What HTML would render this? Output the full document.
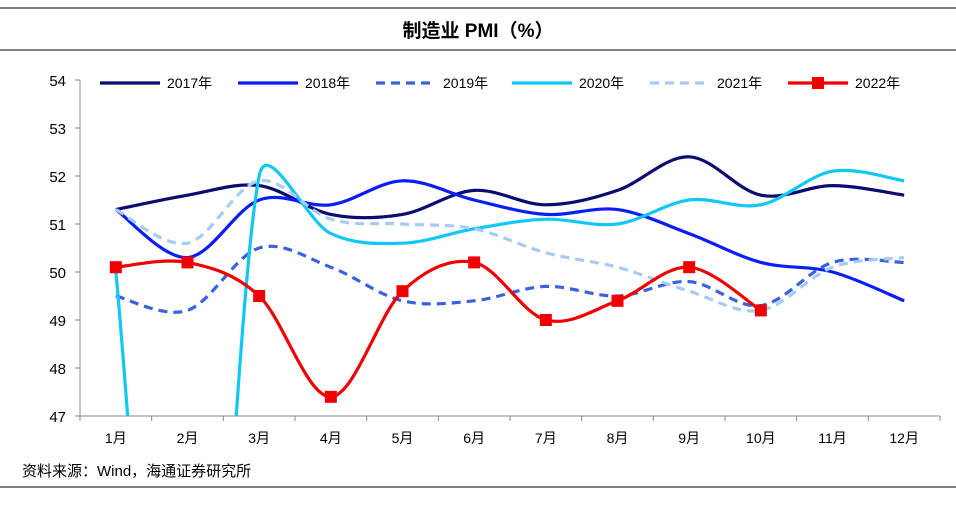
<!DOCTYPE html>
<html><head><meta charset="utf-8"><style>
html,body{margin:0;background:#fff;font-family:"Liberation Sans","Noto Sans CJK SC",sans-serif;overflow:hidden;}
#wrap{position:relative;width:956px;height:509px;overflow:hidden;}
svg{display:block;overflow:hidden;}
</style></head><body>
<div id="wrap">
<svg id="chart" width="956" height="509"></svg>
</div>
<script>
const months=["1月","2月","3月","4月","5月","6月","7月","8月","9月","10月","11月","12月"];
const yTicks=[47,48,49,50,51,52,53,54];
const seriesNames=["2017年","2018年","2019年","2020年","2021年","2022年"];
const s2017=[51.3,51.6,51.8,51.2,51.2,51.7,51.4,51.7,52.4,51.6,51.8,51.6];
const s2018=[51.3,50.3,51.5,51.4,51.9,51.5,51.2,51.3,50.8,50.2,50.0,49.4];
const s2019=[49.5,49.2,50.5,50.1,49.4,49.4,49.7,49.5,49.8,49.3,50.2,50.2];
const s2020=[50.0,35.7,52.0,50.8,50.6,50.9,51.1,51.0,51.5,51.4,52.1,51.9];
const s2021=[51.3,50.6,51.9,51.1,51.0,50.9,50.4,50.1,49.6,49.2,50.1,50.3];
const s2022=[50.1,50.2,49.5,47.4,49.6,50.2,49.0,49.4,50.1,49.2];
const NS="http://www.w3.org/2000/svg";
const svg=document.getElementById('chart');
function el(t,a,p){const e=document.createElementNS(NS,t);for(const k in a)e.setAttribute(k,a[k]);(p||svg).appendChild(e);return e;}
const L=80,R=940,T=80,B=416,yMin=47,yMax=54;
const step=(R-L)/12;
const xS=i=>L+step*(i+0.5);
const yS=v=>B-(v-yMin)/(yMax-yMin)*(B-T);
let e;
e=el('line',{x1:0,y1:8,x2:956,y2:8,stroke:'#000','stroke-width':1});

e=el('line',{x1:0,y1:50,x2:956,y2:50,stroke:'#000','stroke-width':1});

e=el('line',{x1:0,y1:487,x2:956,y2:487,stroke:'#000','stroke-width':1});

e=el('text',{x:478,y:37,'text-anchor':'middle','font-size':19,'font-weight':'bold',fill:'#000'});
e.textContent='制造业 PMI（%）';

e=el('text',{x:22,y:476,'font-size':15,fill:'#000'});
e.textContent='资料来源：Wind，海通证券研究所';

e=el('line',{x1:L,y1:T,x2:L,y2:B,stroke:'#888','stroke-width':1});

e=el('line',{x1:L,y1:B,x2:R,y2:B,stroke:'#888','stroke-width':1});

yTicks.forEach(v=>{
 const t=el('line',{x1:L-5,y1:yS(v),x2:L,y2:yS(v),stroke:'#888'});
 
 const tx=el('text',{x:L-14,y:yS(v)+6,'text-anchor':'end','font-size':15,fill:'#000'});
 tx.textContent=v;
 
});
for(let i=0;i<=12;i++){
 const t=el('line',{x1:L+step*i,y1:B,x2:L+step*i,y2:B+5,stroke:'#888'});
 
}
months.forEach((m,i)=>{
 const tx=el('text',{x:xS(i),y:B+27,'text-anchor':'middle','font-size':14,fill:'#000'});
 tx.textContent=m;
 
});
const cp=el('clipPath',{id:'pc'});
el('rect',{x:L,y:T-10,width:R-L,height:B-T+10},cp);
function clampVec(dx,dy,max){const l=Math.hypot(dx,dy);if(l>max&&l>0){return [dx*max/l,dy*max/l];}return [dx,dy];}
function smooth(vals){
 const p=vals.map((v,i)=>[xS(i),yS(v)]);
 let d='M'+p[0][0]+','+p[0][1];
 for(let i=0;i<p.length-1;i++){
  const p0=p[i-1]||p[i],p1=p[i],p2=p[i+1],p3=p[i+2]||p2;
  const chord=Math.hypot(p2[0]-p1[0],p2[1]-p1[1]);
  const a=clampVec((p2[0]-p0[0])/6,(p2[1]-p0[1])/6,chord*0.45);
  const b=clampVec((p3[0]-p1[0])/6,(p3[1]-p1[1])/6,chord*0.45);
  d+=` C${p1[0]+a[0]},${p1[1]+a[1]} ${p2[0]-b[0]},${p2[1]-b[1]} ${p2[0]},${p2[1]}`;
 }
 return d;
}
const styles=[
 {data:s2017,c:'#0b0b72',dash:''},
 {data:s2018,c:'#0a1ef5',dash:''},
 {data:s2019,c:'#3a62e0',dash:'9,6'},
 {data:s2020,c:'#10c8f4',dash:''},
 {data:s2021,c:'#a6ccf5',dash:'9,6'},
 {data:s2022,c:'#f00000',dash:''}];
const g=el('g',{'clip-path':'url(#pc)'});

styles.forEach((s,k)=>{
 const pth=el('path',{d:smooth(s.data),fill:'none',stroke:s.c,'stroke-width':3.2,'stroke-dasharray':s.dash},g);
 
 
});
s2022.forEach((v,i)=>{
 const r=el('rect',{x:xS(i)-6,y:yS(v)-6,width:12,height:12,fill:'#f00000'});
 
});
const lx=[100,238,376,512,650,788];
styles.forEach((s,k)=>{
 const y=83;
 const ln=el('line',{x1:lx[k],y1:y,x2:lx[k]+60,y2:y,stroke:s.c,'stroke-width':3.2,'stroke-dasharray':s.dash});
 
 if(k===5){const r=el('rect',{x:lx[k]+24,y:y-6,width:12,height:12,fill:s.c});
  }
 const t=el('text',{x:lx[k]+67,y:y+5,'font-size':14,fill:'#000'});
 t.textContent=seriesNames[k];
 
});
</script>
</body></html>
